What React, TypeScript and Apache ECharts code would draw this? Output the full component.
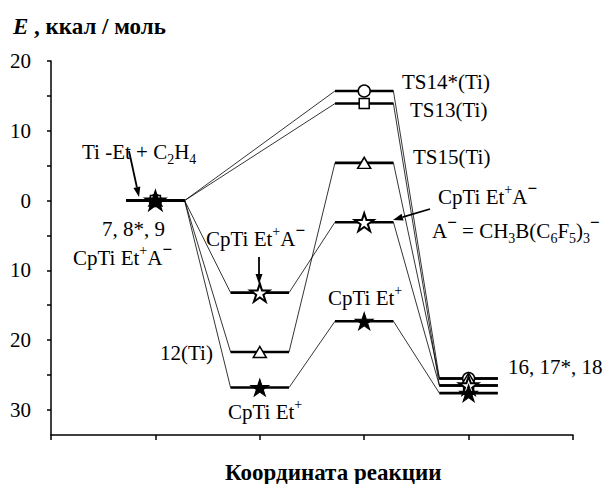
import React, { useEffect, useRef } from "react";
import * as echarts from "echarts";

// ---------- data ----------
const stageX = [1, 2, 3, 4]; // reactants, intermediate, TS, products
// energies (kcal/mol); null = stage not present in that pathway
const ts14Path = [0, null, 15.7, -25.5]; // circle
const ts13Path = [0, null, 13.9, -26.5]; // square
const ts15Path = [0, -21.7, 5.4, -25.5]; // triangle
const ionPairPath = [0, -13.2, -3.1, -26.5]; // open star
const cationPath = [0, -26.8, -17.3, -27.6]; // filled star
const yTickValues = [-30, -25, -20, -15, -10, -5, 0, 5, 10, 15, 20];
const yLabelValues = [-30, -20, -10, 0, 10, 20];
const yMin = -33.6;
const yMax = 20;
const xMin = 0;
const xMax = 5;

// ---------- styles ----------
const HALF = 0.28;
const SERIF = "Times New Roman, Liberation Serif, DejaVu Serif, serif";
const STAR =
  "path://M0,-10L2.245,-3.09L9.511,-3.09L3.633,1.18L5.878,8.09L0,3.82L-5.878,8.09L-3.633,1.18L-9.511,-3.09L-2.245,-3.09Z";

type PathDef = {
  values: (number | null)[];
  symbol: string;
  size: number | number[];
  fill: string;
  border: number;
};

const paths: PathDef[] = [
  { values: ts14Path, symbol: "circle", size: 12, fill: "#fff", border: 1.5 },
  { values: ts13Path, symbol: "rect", size: 10, fill: "#fff", border: 1.5 },
  { values: ts15Path, symbol: "triangle", size: [13, 11], fill: "#fff", border: 1.5 },
  { values: ionPairPath, symbol: STAR, size: [19, 18], fill: "#fff", border: 2 },
  { values: cationPath, symbol: STAR, size: [18, 17], fill: "#000", border: 1 },
];

const FS = 21;
const tok = (extra: any = {}) => ({
  fontFamily: SERIF,
  fontSize: FS,
  fill: "#000",
  lineHeight: 22,
  ...extra,
});
const rich = {
  n: tok(),
  sup: tok({ fontSize: 14, height: 6, lineHeight: 6, verticalAlign: "top" }),
  supb: tok({ fontSize: 17, height: 5, lineHeight: 5, verticalAlign: "top", fontWeight: "bold" }),
  sub: tok({ fontSize: 14, height: 8, lineHeight: 8, verticalAlign: "bottom" }),
};

const annotations: { text: string; x: number; y: number }[] = [
  { text: "{n|Ti -Et + C}{sub|2}{n|H}{sub|4}", x: 82, y: 152 },
  { text: "{n|7, 8*, 9}", x: 102, y: 229 },
  { text: "{n|CpTi Et}{sup|+}{n|A}{supb|\u2212}", x: 73, y: 258 },
  { text: "{n|CpTi Et}{sup|+}{n|A}{supb|\u2212}", x: 206, y: 239 },
  { text: "{n|12(Ti)}", x: 160, y: 353 },
  { text: "{n|CpTi Et}{sup|+}", x: 228, y: 412 },
  { text: "{n|CpTi Et}{sup|+}", x: 328, y: 298 },
  { text: "{n|TS14*(Ti)}", x: 402, y: 82 },
  { text: "{n|TS13(Ti)}", x: 410, y: 110 },
  { text: "{n|TS15(Ti)}", x: 413, y: 157 },
  { text: "{n|CpTi Et}{sup|+}{n|A}{supb|\u2212}", x: 438, y: 197 },
  {
    text: "{n|A}{supb|\u2212}{n| = CH}{sub|3}{n|B(C}{sub|6}{n|F}{sub|5}{n|)}{sub|3}{supb|\u2212}",
    x: 432,
    y: 231,
  },
  { text: "{n|16, 17*, 18}", x: 508, y: 367 },
];

const arrows = [
  [129, 151, 139, 197],
  [259, 257, 259, 284],
  [430, 209, 393, 220],
];

function arrowGraphic(x1: number, y1: number, x2: number, y2: number) {
  const dx = x2 - x1;
  const dy = y2 - y1;
  const len = Math.sqrt(dx * dx + dy * dy);
  const ux = dx / len;
  const uy = dy / len;
  const hl = 10;
  const hw = 3.5;
  const bx = x2 - ux * hl;
  const by = y2 - uy * hl;
  return {
    type: "group",
    children: [
      {
        type: "line",
        shape: { x1, y1, x2: bx, y2: by },
        style: { stroke: "#000", lineWidth: 1.8 },
      },
      {
        type: "polygon",
        shape: {
          points: [
            [x2, y2],
            [bx - uy * hw, by + ux * hw],
            [bx + uy * hw, by - ux * hw],
          ],
        },
        style: { fill: "#000" },
      },
    ],
  };
}

export default function App() {
  const ref = useRef<HTMLDivElement>(null);

  useEffect(() => {
    if (!ref.current) return;
    const chart = echarts.init(ref.current, undefined, { renderer: "svg" });

    const series: any[] = [];
    const levelData: number[][] = [];

    paths.forEach((p) => {
      const pts: number[][] = [];
      const markers: number[][] = [];
      p.values.forEach((v, i) => {
        if (v === null) return;
        pts.push([stageX[i] - HALF, v], [stageX[i] + HALF, v]);
        markers.push([stageX[i], v]);
        levelData.push([stageX[i], v]);
      });
      series.push({
        type: "line",
        data: pts,
        symbol: "none",
        lineStyle: { color: "#000", width: 0.8 },
        z: 2,
        silent: true,
      });
      series.push({
        type: "scatter",
        data: markers,
        symbol: p.symbol,
        symbolSize: p.size,
        itemStyle: { color: p.fill, borderColor: "#000", borderWidth: p.border, opacity: 1 },
        z: 4,
        silent: true,
      });
    });

    series.unshift({
      type: "custom",
      data: levelData,
      z: 3,
      silent: true,
      renderItem: (params: any, api: any) => {
        const x = api.value(0);
        const y = api.value(1);
        const a = api.coord([x - HALF, y]);
        const b = api.coord([x + HALF, y]);
        return {
          type: "line",
          shape: { x1: a[0], y1: a[1], x2: b[0], y2: b[1] },
          style: { stroke: "#000", lineWidth: 2.6 },
        };
      },
    });

    const graphic: any[] = [
      {
        type: "text",
        x: 13,
        y: 26,
        style: {
          text: "{e|E}{t| , ккал / моль}",
          align: "left",
          verticalAlign: "middle",
          rich: {
            e: { fontFamily: SERIF, fontSize: 23, fontWeight: "bold", fontStyle: "italic", fill: "#000" },
            t: { fontFamily: SERIF, fontSize: 23, fontWeight: "bold", fill: "#000" },
          },
        },
      },
      {
        type: "text",
        x: 225,
        y: 472,
        style: {
          text: "Координата реакции",
          fontFamily: SERIF,
          fontSize: 23,
          fontWeight: "bold",
          fill: "#000",
          align: "left",
          verticalAlign: "middle",
        },
      },
      ...annotations.map((a) => ({
        type: "text",
        x: a.x,
        y: a.y,
        style: {
          text: a.text,
          rich,
          fontFamily: SERIF,
          fontSize: FS,
          fill: "#000",
          align: "left",
          verticalAlign: "middle",
        },
      })),
      ...arrows.map((a) => arrowGraphic(a[0], a[1], a[2], a[3])),
    ];

    chart.setOption({
      animation: false,
      backgroundColor: "#fff",
      textStyle: { fontFamily: SERIF },
      grid: { left: 51, right: 32, top: 61, bottom: 49, containLabel: false },
      xAxis: {
        type: "value",
        min: xMin,
        max: xMax,
        interval: 1,
        axisLine: { onZero: false, lineStyle: { color: "#000", width: 1.5 } },
        axisTick: { show: true, inside: false, length: 5, lineStyle: { color: "#000", width: 1.5 } },
        axisLabel: { show: false },
        splitLine: { show: false },
      },
      yAxis: {
        type: "value",
        min: yMin,
        max: yMax,
        axisLine: { show: true, onZero: false, lineStyle: { color: "#000", width: 1.5 } },
        axisTick: {
          show: true,
          inside: false,
          length: 4,
          customValues: yTickValues,
          lineStyle: { color: "#000", width: 1.5 },
        },
        axisLabel: {
          show: true,
          customValues: yLabelValues,
          formatter: (v: number) => String(Math.abs(v)),
          fontFamily: SERIF,
          fontSize: 21,
          color: "#000",
          margin: 20,
        },
        splitLine: { show: false },
      },
      graphic,
      series,
    });

    return () => chart.dispose();
  }, []);

  return (
    <div
      ref={ref}
      style={{ position: "fixed", left: 0, top: 0, width: 605, height: 484, background: "#fff" }}
    />
  );
}
